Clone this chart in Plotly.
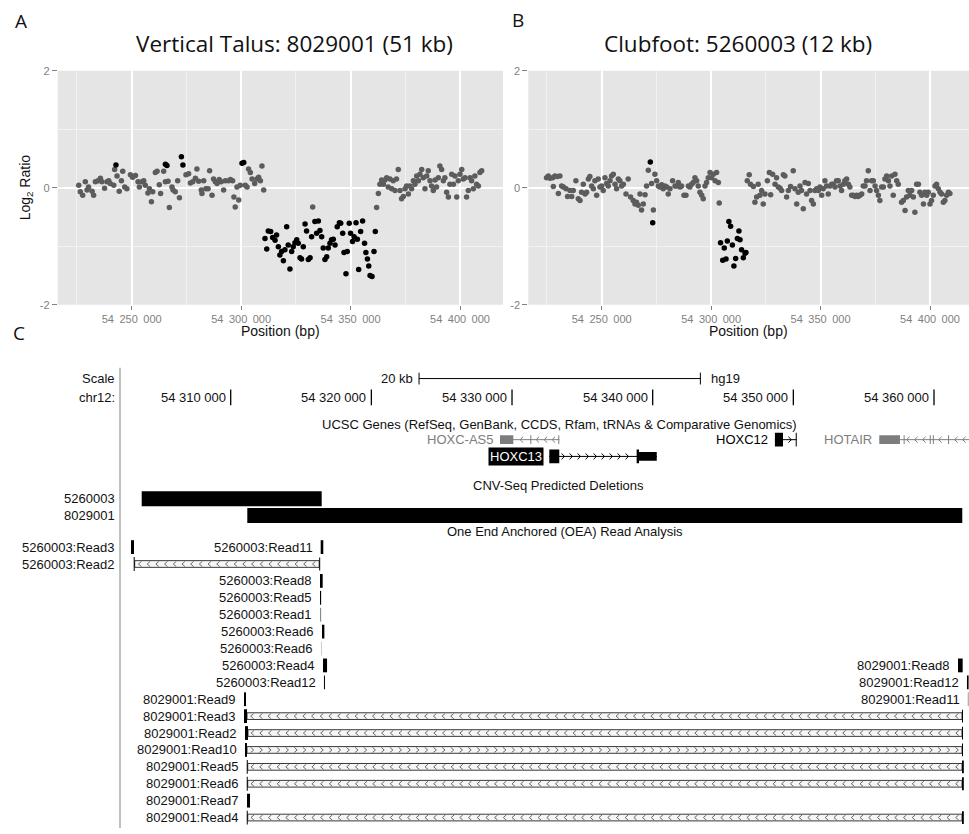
import numpy as np
import plotly.graph_objects as go

# ------------------------------------------------------------------
# DATA
# ------------------------------------------------------------------
BASE_BP = 54_200_000          # probe positions below are kb offsets from this

# Panel A  (Vertical Talus 8029001) : (kb offset, log2 ratio)
A_GRAY = [(25.8, 0.04), (26.5, -0.07), (27.6, -0.13), (28.8, 0.10), (29.6, -0.04), (30.3, 0.01),
          (31.9, -0.06), (32.6, -0.13), (33.4, 0.10), (34.6, 0.12), (35.7, 0.16), (36.4, 0.10),
          (37.6, -0.01), (38.7, 0.10), (39.5, 0.12), (40.2, 0.07), (41.8, 0.04), (42.2, 0.31),
          (43.3, 0.20), (44.3, -0.06), (45.3, 0.12), (45.9, 0.28), (46.8, 0.01), (47.8, -0.02),
          (49.4, 0.22), (50.4, 0.18), (51.7, 0.21), (52.9, 0.10), (53.5, 0.01), (54.7, 0.10),
          (55.5, 0.12), (56.2, 0.04), (57.4, -0.09), (58.1, -0.02), (59.0, -0.24), (59.6, -0.07),
          (60.8, 0.26), (61.6, 0.28), (62.6, 0.05), (63.2, -0.10), (64.6, 0.28), (65.4, 0.10),
          (66.6, 0.11), (67.2, -0.34), (68.4, 0.01), (68.9, -0.04), (69.9, -0.07), (71.0, 0.12),
          (71.8, -0.17), (74.8, 0.22), (76.0, 0.24), (76.8, 0.08), (77.9, 0.10), (79.1, 0.16),
          (79.8, 0.32), (80.6, 0.11), (81.8, -0.04), (82.1, -0.10), (82.9, 0.12), (83.9, -0.02),
          (84.9, -0.02), (85.6, 0.29), (86.7, -0.13), (87.4, 0.15), (88.2, 0.10), (89.0, 0.07),
          (90.0, 0.14), (90.9, 0.10), (92.0, -0.04), (92.8, 0.12), (94.3, 0.12), (95.1, 0.14),
          (96.1, 0.12), (96.7, -0.16), (97.3, -0.33), (98.1, 0.01), (98.9, -0.21), (99.6, 0.04),
          (101.9, 0.04), (102.7, 0.01), (103.4, 0.32), (104.2, 0.26), (105.0, 0.15), (106.2, 0.07),
          (107.2, 0.15), (108.0, 0.18), (108.8, 0.12), (109.5, 0.37), (110.3, -0.04), (132.7, -0.33),
          (161.9, -0.34), (162.7, -0.10), (163.4, 0.06), (164.2, 0.13), (165.0, 0.06), (165.7, 0.13),
          (166.5, 0.17), (167.2, 0.01), (168.0, 0.15), (168.8, -0.02), (169.5, 0.12), (170.3, -0.05),
          (171.0, 0.15), (171.8, 0.31), (172.6, -0.05), (173.3, -0.19), (174.1, -0.15), (174.9, -0.02),
          (175.6, 0.03), (176.4, -0.11), (177.1, 0.03), (177.9, -0.02), (178.7, 0.12), (179.4, 0.06),
          (180.2, 0.20), (181.0, 0.12), (181.7, 0.23), (182.5, 0.31), (183.2, 0.17), (184.0, -0.02),
          (184.8, 0.20), (185.5, 0.29), (186.3, 0.12), (187.0, 0.03), (187.8, -0.05), (188.6, 0.13),
          (189.3, 0.01), (190.1, 0.17), (190.8, 0.37), (191.6, 0.31), (192.4, 0.12), (193.1, 0.17),
          (193.9, -0.08), (194.7, -0.16), (195.4, 0.06), (196.2, 0.23), (197.0, 0.06), (197.7, 0.20),
          (198.5, -0.16), (199.2, 0.12), (200.0, 0.23), (200.8, 0.31), (201.5, 0.15), (202.3, 0.17),
          (203.0, -0.16), (203.8, -0.05), (204.6, 0.17), (205.3, 0.12), (206.1, -0.02), (206.8, 0.20),
          (207.6, 0.06), (208.4, 0.03), (209.1, 0.26), (209.9, 0.29)]
A_BLACK = [(42.8, 0.39), (65.4, 0.40), (66.1, 0.38), (72.7, 0.53), (73.4, 0.39), (100.4, 0.42), (101.2, 0.43),
           (110.9, -0.87), (111.7, -1.05), (112.4, -0.74), (113.5, -0.75), (114.4, -0.85), (115.5, -0.90),
           (116.2, -0.81), (117.0, -1.01), (117.7, -1.15), (118.5, -1.09), (119.3, -1.25), (120.0, -1.06),
           (120.8, -0.67), (121.5, -0.98), (122.3, -1.39), (123.1, -1.09), (123.8, -1.01), (124.6, -0.94),
           (125.4, -0.89), (126.1, -0.95), (126.9, -1.20), (127.6, -1.22), (128.4, -1.01), (129.2, -0.62),
           (129.9, -0.74), (130.7, -1.23), (131.5, -1.20), (132.2, -0.84), (133.7, -0.58), (134.5, -0.78),
           (135.3, -0.57), (136.0, -0.73), (136.8, -0.84), (137.5, -1.03), (138.3, -1.23), (139.1, -1.18),
           (139.8, -1.03), (140.6, -0.95), (141.3, -0.89), (142.1, -0.88), (142.9, -0.98), (143.9, -0.67),
           (144.9, -0.60), (145.5, -0.61), (146.4, -0.78), (147.0, -1.11), (147.9, -1.47), (148.5, -1.09),
           (149.4, -0.61), (150.0, -0.78), (150.9, -0.92), (151.6, -0.84), (152.5, -0.60), (153.1, -0.88),
           (153.7, -1.40), (154.6, -0.75), (155.5, -0.57), (156.4, -0.95), (157.0, -1.11), (157.7, -1.22),
           (158.3, -1.34), (158.9, -1.50), (159.8, -1.52), (160.7, -1.09), (161.3, -0.75)]

# Panel B  (Clubfoot 5260003)
B_GRAY = [(24.8, 0.17), (25.6, 0.20), (26.4, 0.16), (27.6, 0.17), (27.9, 0.02), (28.6, 0.20), (29.7, 0.19),
          (30.2, -0.10), (30.9, 0.20), (31.7, 0.03), (32.5, 0.01), (33.7, -0.02), (34.4, -0.15), (35.5, -0.05),
          (36.3, -0.15), (37.0, -0.05), (38.2, 0.12), (39.3, -0.19), (40.1, -0.22), (40.8, -0.08), (41.6, 0.06),
          (42.4, -0.11), (43.1, -0.08), (43.9, 0.15), (44.6, 0.19), (45.4, 0.03), (46.2, -0.02), (46.9, 0.12),
          (47.7, -0.13), (48.4, 0.15), (49.2, 0.01), (50.0, 0.03), (50.7, -0.05), (51.5, 0.17), (52.3, 0.07),
          (53.0, 0.03), (53.8, 0.12), (54.5, 0.20), (55.3, 0.23), (56.1, 0.06), (56.8, -0.02), (57.6, 0.15),
          (58.3, 0.12), (59.1, 0.03), (59.9, 0.06), (61.1, -0.11), (62.1, 0.15), (63.2, -0.16), (64.4, -0.22),
          (65.2, -0.28), (65.9, -0.25), (66.7, -0.30), (67.5, -0.11), (68.2, -0.38), (69.0, -0.28), (69.8, -0.12),
          (70.5, 0.03), (71.3, 0.30), (72.8, 0.07), (73.6, -0.38), (74.3, 0.23), (75.1, 0.12), (75.9, 0.03),
          (76.6, 0.01), (77.4, 0.05), (78.1, -0.02), (78.9, 0.03), (79.7, 0.01), (80.4, -0.11), (81.2, -0.02),
          (82.4, 0.12), (83.5, 0.03), (84.2, 0.03), (85.0, 0.09), (85.8, 0.01), (86.5, 0.03), (87.6, -0.13),
          (88.5, -0.13), (89.6, 0.03), (90.3, 0.01), (91.1, 0.06), (91.8, 0.09), (92.6, 0.17), (93.4, 0.12),
          (94.1, 0.03), (94.9, -0.08), (95.7, -0.13), (96.4, -0.19), (97.2, 0.03), (97.9, 0.09), (98.7, 0.17),
          (99.5, 0.26), (100.2, 0.17), (101.0, 0.23), (101.8, 0.12), (102.5, 0.26), (103.3, 0.09), (103.7, -0.26),
          (116.5, 0.12), (117.4, 0.22), (118.0, 0.06), (119.3, 0.02), (120.0, -0.25), (120.8, -0.16), (121.5, 0.06),
          (122.3, -0.13), (123.1, -0.05), (123.8, -0.28), (124.6, -0.11), (125.7, 0.12), (126.6, 0.26),
          (127.2, -0.12), (128.1, 0.23), (129.2, 0.06), (129.9, 0.17), (130.7, 0.01), (131.5, -0.01),
          (132.2, -0.05), (133.0, 0.22), (133.7, 0.20), (134.5, -0.16), (135.3, -0.05), (136.3, 0.02),
          (137.5, 0.29), (138.3, -0.02), (139.1, -0.28), (139.8, -0.08), (140.6, 0.03), (141.3, -0.05),
          (142.1, -0.36), (142.9, 0.09), (143.6, -0.11), (144.4, 0.07), (145.2, -0.05), (145.9, -0.22),
          (146.7, -0.28), (147.4, -0.05), (148.2, -0.02), (149.0, -0.05), (149.7, 0.01), (150.5, -0.13),
          (151.2, -0.02), (152.0, 0.12), (152.8, 0.03), (153.5, -0.11), (154.3, 0.03), (155.1, 0.06),
          (155.8, 0.06), (156.6, 0.01), (157.3, 0.12), (158.1, 0.12), (158.9, 0.03), (159.6, -0.05),
          (160.4, 0.06), (161.1, 0.12), (161.9, 0.15), (162.7, 0.06), (163.4, 0.01), (164.2, -0.13),
          (164.9, -0.13), (165.7, -0.15), (166.5, -0.13), (167.2, -0.15), (168.0, -0.13), (168.8, -0.11),
          (169.5, 0.03), (170.3, 0.03), (171.0, 0.12), (171.8, 0.29), (172.6, -0.05), (173.3, 0.12),
          (174.1, 0.12), (174.9, 0.03), (175.6, -0.05), (176.4, -0.13), (177.1, -0.22), (177.9, 0.01),
          (178.7, 0.01), (179.4, 0.15), (180.2, 0.20), (181.0, 0.12), (181.7, 0.03), (182.5, 0.20),
          (183.2, -0.13), (184.0, 0.23), (184.8, 0.12), (185.5, 0.06), (187.0, -0.25), (187.8, -0.22),
          (188.6, -0.39), (189.3, -0.16), (190.1, -0.05), (190.8, -0.13), (191.6, -0.05), (192.4, -0.16),
          (193.1, -0.42), (193.9, 0.06), (194.7, 0.06), (195.4, -0.08), (196.2, -0.13), (197.0, -0.28),
          (197.7, -0.08), (198.5, -0.13), (199.2, -0.08), (200.0, -0.28), (200.7, -0.22), (201.5, -0.13),
          (202.3, 0.03), (203.0, 0.06), (203.8, -0.02), (204.6, -0.08), (205.3, -0.11), (206.1, -0.25),
          (206.8, -0.22), (207.6, -0.13), (208.4, -0.08), (209.1, -0.10)]
B_BLACK = [(72.2, 0.44), (73.3, -0.60),
           (104.3, -0.94), (105.3, -1.24), (106.0, -1.03), (106.8, -1.22), (107.4, -0.91), (108.1, -0.58),
           (108.9, -0.66), (109.7, -0.98), (110.4, -1.34), (111.2, -1.21), (112.0, -0.87), (112.7, -0.74),
           (113.2, -0.89), (113.9, -1.06), (114.7, -1.20), (115.5, -1.12), (115.9, -1.11)]

X_TICKS = [54_250_000, 54_300_000, 54_350_000, 54_400_000]
X_TICK_TEXT = ["54\u2002250\u2002000", "54\u2002300\u2002000", "54\u2002350\u2002000", "54\u2002400\u2002000"]
Y_TICKS = [-2, 0, 2]

# Panel C  (UCSC browser view, chr12, hg19)
CHR_TICKS = [54_310_000, 54_320_000, 54_330_000, 54_340_000, 54_350_000, 54_360_000]
CHR_TICK_TEXT = ["54 310 000", "54 320 000", "54 330 000", "54 340 000", "54 350 000", "54 360 000"]
SCALE_START = 54_323_390
SCALE_LEN = 20_000

GENE_NAMES = ["HOXC-AS5", "HOXC13", "HOXC12", "HOTAIR"]
GENE_STRAND = ["-", "+", "+", "-"]
GENE_TX = [(54_329_145, 54_333_360), (54_332_650, 54_340_290), (54_348_690, 54_350_240), (54_356_110, 54_368_740)]
GENE_EXONS = [
    [(54_329_145, 54_330_090, "utr"), (54_331_300, 54_331_370, "utr"), (54_333_290, 54_333_360, "utr")],
    [(54_332_650, 54_333_360, "cds"), (54_338_860, 54_339_030, "cds"), (54_339_030, 54_340_290, "utr")],
    [(54_348_690, 54_349_265, "cds"), (54_350_170, 54_350_240, "cds")],
    [(54_356_110, 54_357_580, "utr"), (54_357_840, 54_357_900, "utr"), (54_359_700, 54_359_760, "utr"),
     (54_359_920, 54_359_990, "utr"), (54_361_000, 54_361_060, "utr")],
]
GENE_COLOR = ["#7d7d7d", "#000000", "#000000", "#7d7d7d"]
GENE_LINE = [0, 1, 0, 0]          # which gene row of the track

CNV_NAMES = ["5260003", "8029001"]
CNV_START = [54_303_673, 54_311_180]
CNV_END = [54_316_469, 54_362_010]

READ_LABEL = ["5260003:Read3", "5260003:Read11", "5260003:Read2", "5260003:Read8", "5260003:Read5",
              "5260003:Read1", "5260003:Read6", "5260003:Read6", "5260003:Read4", "5260003:Read12",
              "8029001:Read8", "8029001:Read12", "8029001:Read9", "8029001:Read11", "8029001:Read3",
              "8029001:Read2", "8029001:Read10", "8029001:Read5", "8029001:Read6", "8029001:Read7",
              "8029001:Read4"]
READ_ROW = [0, 0, 1, 2, 3, 4, 5, 6, 7, 8, 7, 8, 9, 9, 10, 11, 12, 13, 14, 15, 16]
READ_START = [54_302_912, 54_316_398, 54_303_104, 54_316_348, 54_316_348, 54_316_348, 54_316_490,
              54_316_420, 54_316_562, 54_316_630, 54_361_704, 54_362_343, 54_310_945, 54_362_400,
              54_310_945, 54_311_017, 54_311_017, 54_311_140, 54_311_140, 54_311_160, 54_311_140]
READ_END = [54_303_126, 54_316_583, 54_303_175, 54_316_540, 54_316_430, 54_316_430, 54_316_660,
            54_316_490, 54_316_850, 54_316_700, 54_362_038, 54_362_460, 54_311_088, 54_362_470,
            54_311_160, 54_311_230, 54_311_160, 54_311_210, 54_311_210, 54_311_372, 54_311_210]
MATE_START = [None, None, 54_316_290, None, None, None, None, None, None, None, None, None, None, None,
              54_361_990, 54_361_990, 54_361_990, 54_361_990, 54_361_990, None, 54_361_990]
MATE_END = [None, None, 54_316_348, None, None, None, None, None, None, None, None, None, None, None,
            54_362_050, 54_362_050, 54_362_050, 54_362_120, 54_362_120, None, 54_362_120]
READ_DIR = [None, None, "<", None, None, None, None, None, None, None, None, None, None, None,
            "<", "<", ">", "<", "<", None, "<"]
READ_SHADE = ["#000000", "#000000", "#000000", "#000000", "#000000", "#8a8a8a", "#000000", "#cfcfcf",
              "#000000", "#000000", "#000000", "#000000", "#000000", "#9a9a9a", "#000000", "#000000",
              "#000000", "#000000", "#000000", "#000000", "#000000"]

# ------------------------------------------------------------------
# LAYOUT CONSTANTS (pixel geometry of the page)
# ------------------------------------------------------------------
W, H = 969, 834
SANS = "Liberation Sans, Arial, sans-serif"
TITLE_FONT = "Open Sans, sans-serif"
GRAY_BG = "#E5E5E5"

# panel C: genome axis calibration (bp at a pixel, bp per pixel)
C_REF_BP, C_REF_PX, BPP = 54_310_000, 230.7, 71.093
C_TOP_PX = 360
C_RANGE = [C_REF_BP - C_REF_PX * BPP, C_REF_BP + (W - C_REF_PX) * BPP]
ROW0_PX, ROW_H = 549.0, 17.15
LEFT_LABEL_BP = C_REF_BP + (117 - C_REF_PX) * BPP
DIVIDER_BP = C_REF_BP + (120 - C_REF_PX) * BPP


def px(n):
    """pixel distance -> bp on panel C axis"""
    return n * BPP


def row_y(r):
    return ROW0_PX + ROW_H * r


fig = go.Figure()


def unz(pairs):
    return [BASE_BP + p[0] * 1000 for p in pairs], [p[1] for p in pairs]


for pts, col, ax in [(A_GRAY, "#5c5c5c", ("x", "y")), (A_BLACK, "#000000", ("x", "y")),
                     (B_GRAY, "#5c5c5c", ("x2", "y2")), (B_BLACK, "#000000", ("x2", "y2"))]:
    xx, yy = unz(pts)
    fig.add_trace(go.Scatter(x=xx, y=yy, mode="markers", xaxis=ax[0], yaxis=ax[1],
                             marker=dict(color=col, size=5.5, line=dict(width=0)),
                             hoverinfo="skip", showlegend=False))

shapes = []
annotations = []

# gray panel backgrounds
for xa, ya in [("x", "y"), ("x2", "y2")]:
    shapes.append(dict(type="rect", xref=f"{xa} domain", yref=f"{ya} domain", x0=0, x1=1, y0=0, y1=1,
                       fillcolor=GRAY_BG, line=dict(width=0), layer="below"))


def chevrons(x0, x1, yc, direction, step, cw, ch, skip=()):
    xs, ys = [], []
    n = int((x1 - x0) // step)
    if n <= 0:
        return xs, ys
    off = (x1 - x0 - n * step) / 2
    for c in x0 + off + step * (np.arange(n) + 0.5):
        if any(s - cw <= c <= e + cw for s, e in skip):
            continue
        if direction == "<":
            tip, tail = c - cw / 2, c + cw / 2
        else:
            tip, tail = c + cw / 2, c - cw / 2
        xs += [tail, tip, tail, None]
        ys += [yc - ch, yc, yc + ch, None]
    return xs, ys


def c_text(x, y, text, anchor="right", color="#111111", size=13, **kw):
    annotations.append(dict(x=x, y=y, xref="x3", yref="y3", text=text, showarrow=False,
                            xanchor=anchor, yanchor="middle", font=dict(family=SANS, size=size, color=color),
                            **kw))


def c_line(x0, y0, x1, y1, color="#000000", width=1):
    shapes.append(dict(type="line", xref="x3", yref="y3", x0=x0, x1=x1, y0=y0, y1=y1,
                       line=dict(color=color, width=width)))


def c_rect(x0, x1, yc, half, color, lw=0, fill=None):
    shapes.append(dict(type="rect", xref="x3", yref="y3", x0=x0, x1=max(x1, x0 + px(1)),
                       y0=yc - half, y1=yc + half, fillcolor=fill or color,
                       line=dict(color=color, width=lw)))


# divider
c_line(DIVIDER_BP, 367, DIVIDER_BP, H, color="#c0c0c0", width=2)

# scale line
y_sc = 378
c_text(LEFT_LABEL_BP, y_sc, "Scale")
c_line(SCALE_START, y_sc, SCALE_START + SCALE_LEN, y_sc)
c_line(SCALE_START, y_sc - 6, SCALE_START, y_sc + 6)
c_line(SCALE_START + SCALE_LEN, y_sc - 6, SCALE_START + SCALE_LEN, y_sc + 6)
c_text(SCALE_START - px(4), y_sc, f"{SCALE_LEN // 1000} kb")
c_text(SCALE_START + SCALE_LEN + px(9), y_sc, "hg19", anchor="left")

# chromosome ticks
y_chr = 397
c_text(LEFT_LABEL_BP, y_chr, "chr12:")
for t, tt in zip(CHR_TICKS, CHR_TICK_TEXT):
    c_line(t, y_chr - 8, t, y_chr + 8, width=1.3)
    c_text(t - px(3), y_chr, tt)

# genes
c_text(C_REF_BP + (559 - C_REF_PX) * BPP, 425,
       "UCSC Genes (RefSeq, GenBank, CCDS, Rfam, tRNAs &amp; Comparative Genomics)", anchor="center")
gene_rows = [440, 457]
for name, strand, (ts, te), exons, col, gl in zip(GENE_NAMES, GENE_STRAND, GENE_TX, GENE_EXONS,
                                                  GENE_COLOR, GENE_LINE):
    yc = gene_rows[gl]
    c_line(ts, yc, te, yc, color=col, width=1)
    cx, cy = chevrons(ts, te, yc, "<" if strand == "-" else ">", px(8), px(3), 3,
                      skip=[(s, e) for s, e, _ in exons])
    fig.add_trace(go.Scatter(x=cx, y=cy, mode="lines", xaxis="x3", yaxis="y3", hoverinfo="skip",
                             showlegend=False, line=dict(color=col, width=1)))
    for s, e, kind in exons:
        c_rect(s, e, yc, 7 if kind == "cds" else 4.5, col)
    if name == "HOXC13":
        c_text(ts - px(5), yc, name, color="#ffffff", bgcolor="#000000", borderpad=1)
    else:
        c_text(ts - px(5), yc, name, color=col)

# CNV deletions
c_text(C_REF_BP + (558 - C_REF_PX) * BPP, 486, "CNV-Seq Predicted Deletions", anchor="center")
for i, (nm, s, e) in enumerate(zip(CNV_NAMES, CNV_START, CNV_END)):
    yc = 500 + 17 * i
    c_rect(s, e, yc, 7.6, "#000000")
    c_text(LEFT_LABEL_BP, yc, nm)

# OEA reads
c_text(C_REF_BP + (565 - C_REF_PX) * BPP, 533, "One End Anchored (OEA) Read Analysis", anchor="center")
chev_x, chev_y = [], []
for lab, r, s, e, ms, me, d, shade in zip(READ_LABEL, READ_ROW, READ_START, READ_END, MATE_START,
                                          MATE_END, READ_DIR, READ_SHADE):
    yc = row_y(r)
    if ms is not None:
        shapes.append(dict(type="rect", xref="x3", yref="y3", x0=e, x1=ms, y0=yc - 3.4, y1=yc + 3.4,
                           fillcolor="#f6f6f6", line=dict(color="#3a3a3a", width=1), layer="below"))
        cx, cy = chevrons(e, ms, yc, d, px(8.7), px(3), 2.6)
        chev_x += cx
        chev_y += cy
        c_rect(ms, me, yc, 6.5, shade)
    c_rect(s, e, yc, 7, shade)
    lab_w = len(lab) * 7.2
    if (s - C_RANGE[0]) / BPP - 6 - lab_w < 122:
        c_text(LEFT_LABEL_BP, yc, lab)
    else:
        c_text(s - px(6), yc, lab)
fig.add_trace(go.Scatter(x=chev_x, y=chev_y, mode="lines", xaxis="x3", yaxis="y3", hoverinfo="skip",
                         showlegend=False, line=dict(color="#6a6a6a", width=1)))

# ------------------------------------------------------------------
# titles and panel letters
# ------------------------------------------------------------------
def paper_text(x, y, text, size, family=TITLE_FONT, color="#111111", angle=0):
    annotations.append(dict(x=x / W, y=1 - y / H, xref="paper", yref="paper", text=text, showarrow=False,
                            xanchor="center", yanchor="middle", textangle=angle,
                            font=dict(family=family, size=size, color=color)))


paper_text(20.5, 15, "A", 19)
paper_text(518, 14, "B", 19)
paper_text(18.5, 332, "C", 19)
paper_text(294.3, 38, "Vertical Talus: 8029001 (51 kb)", 22.5)
paper_text(738, 38, "Clubfoot: 5260003 (12 kb)", 22.5)
paper_text(26, 184, "Log<sub>2</sub> Ratio", 14, family=SANS, angle=-90)
paper_text(280.4, 330, "Position (bp)", 14, family=SANS)
paper_text(748.6, 330, "Position (bp)", 14, family=SANS)

tick_font = dict(family=SANS, size=11, color="#7f7f7f")
xcommon = dict(tickvals=X_TICKS, ticktext=X_TICK_TEXT, ticks="outside", ticklen=4, tickcolor="#7f7f7f",
               tickwidth=1, showgrid=True, gridcolor="#ffffff", gridwidth=2, zeroline=False,
               showline=False, tickfont=tick_font,
               minor=dict(tick0=54_225_000, dtick=50_000, showgrid=True, gridcolor="#f2f2f2", gridwidth=1,
                          ticks=""))
ycommon = dict(range=[-2, 2], tickvals=Y_TICKS, ticktext=["-2", "0", "2"], ticks="outside", ticklen=5,
               tickcolor="#7f7f7f", tickwidth=1, showgrid=True, gridcolor="#ffffff", gridwidth=2,
               zeroline=False, showline=False, tickfont=tick_font,
               minor=dict(tickvals=[-1, 1], showgrid=True, gridcolor="#f2f2f2", gridwidth=1, ticks=""))

fig.update_layout(
    width=W, height=H, margin=dict(l=0, r=0, t=0, b=0),
    paper_bgcolor="#ffffff", plot_bgcolor="#ffffff", showlegend=False,
    xaxis=dict(domain=[57.7 / W, 503 / W], range=[54_216_188, 54_419_647], anchor="y", **xcommon),
    yaxis=dict(domain=[1 - 303 / H, 1 - 65.7 / H], anchor="x", **ycommon),
    xaxis2=dict(domain=[528.3 / W, 1.0], range=[54_216_463, 54_417_820], anchor="y2", **xcommon),
    yaxis2=dict(domain=[1 - 303 / H, 1 - 65.7 / H], anchor="x2", **ycommon),
    xaxis3=dict(domain=[0, 1], range=C_RANGE, anchor="y3", visible=False, showgrid=False, zeroline=False),
    yaxis3=dict(domain=[0, (H - C_TOP_PX) / H], range=[H, C_TOP_PX], anchor="x3", visible=False,
                showgrid=False, zeroline=False),
    shapes=shapes, annotations=annotations,
)

fig.write_html("out.html", config={"displayModeBar": False},
               post_script="document.body.style.margin='0px';document.body.style.overflow='hidden';")
